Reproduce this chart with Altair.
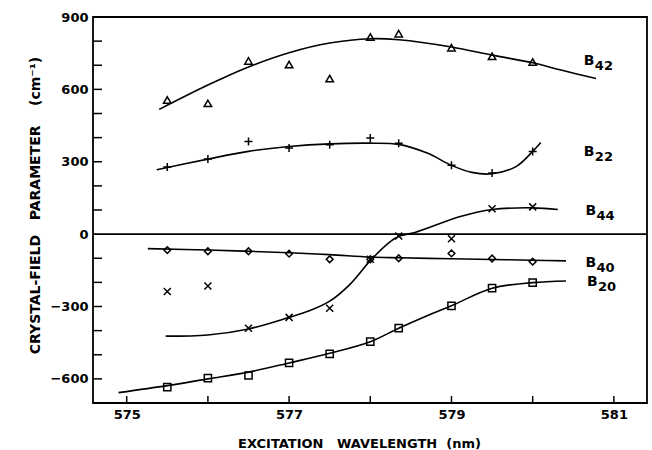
import altair as alt
import pandas as pd

# Excitation wavelengths of the measurements (nm)
wavelength = [575.5, 576.0, 576.5, 577.0, 577.5, 578.0, 578.35, 579.0, 579.5, 580.0]

# Fitted crystal-field parameters at each wavelength (cm^-1)
b42 = [556, 542, 718, 703, 645, 817, 831, 773, 737, 713]
b22 = [278, 311, 384, 357, 370, 398, 377, 285, 253, 343]
b44 = [-238, -215, -390, -345, -307, -104, -8, -19, 105, 113]
b40 = [-66, -71, -71, -81, -104, -104, -100, -80, -101, -114]
b20 = [-634, -597, -586, -534, -496, -446, -390, -297, -224, -201]

# Smooth guide curves drawn through each parameter set
b42_curve_x = [575.40, 576.0, 576.5, 577.0, 577.5, 578.0, 578.35, 579.0, 579.5, 580.0, 580.35, 580.78]
b42_curve_y = [517, 618, 693, 752, 792, 810, 806, 776, 742, 710, 680, 645]
b22_curve_x = [575.37, 576.0, 576.5, 577.0, 577.5, 578.0, 578.35, 578.7, 579.0, 579.25, 579.5, 579.8, 580.0, 580.1]
b22_curve_y = [267, 311, 343, 363, 374, 377, 372, 336, 285, 256, 250, 281, 343, 380]
b44_curve_x = [575.48, 576.0, 576.5, 577.0, 577.25, 577.5, 577.75, 578.0, 578.22, 578.36, 578.55, 579.12, 579.5, 580.0, 580.31]
b44_curve_y = [-423, -418, -393, -345, -318, -278, -208, -110, -38, -8, 7, 74, 102, 109, 102]
b40_curve_x = [575.26, 576.0, 577.0, 577.5, 578.0, 578.35, 579.0, 579.5, 580.0, 580.41]
b40_curve_y = [-60, -66, -77, -85, -95, -98, -102, -105, -108, -111]
b20_curve_x = [574.90, 575.5, 576.0, 576.5, 577.0, 577.5, 578.0, 578.35, 578.7, 579.0, 579.5, 580.0, 580.41]
b20_curve_y = [-657, -628, -600, -572, -534, -494, -446, -390, -338, -297, -224, -201, -194]

# Axis ticks and labels
x_labels = [575, 577, 579, 581]
x_ticks = [575, 576, 577, 578, 579, 580, 581]
y_labels = [-600, -300, 0, 300, 600, 900]
y_ticks = [-600, -500, -400, -300, -200, -100, 100, 200, 300, 400, 500, 600, 700, 800]

# Series labels at the right-hand side
label_names = ["42", "22", "44", "40", "20"]
label_x = [580.63, 580.63, 580.65, 580.65, 580.67]
label_y = [718, 340, 96, -120, -198]

W, H = 554, 386
FONT = "DejaVu Sans"
INK = "black"

x_scale = alt.Scale(domain=[574.585, 581.408], nice=False, zero=False)
y_scale = alt.Scale(domain=[-700, 900], nice=False, zero=False)

x_axis = alt.Axis(
    values=x_labels, format="d", ticks=False, domain=False, grid=False,
    labelFont=FONT, labelFontWeight="bold", labelFontSize=13, labelColor=INK,
    labelPadding=5,
    title="EXCITATION\u00a0\u00a0\u00a0WAVELENGTH\u00a0\u00a0(nm)",
    titleFont=FONT, titleFontWeight="bold", titleFontSize=13, titleColor=INK,
    titleX=266, titleY=44, titleAlign="center", titleBaseline="alphabetic",
    titleAnchor="start",
)
y_axis = alt.Axis(
    values=y_labels, format="d", ticks=False, domain=False, grid=False,
    labelFont=FONT, labelFontWeight="bold", labelFontSize=13, labelColor=INK,
    labelPadding=5,
    title="CRYSTAL-FIELD\u00a0\u00a0\u00a0PARAMETER\u00a0\u00a0\u00a0\u00a0(cm\u207b\u00b9)",
    titleFont=FONT, titleFontWeight="bold", titleFontSize=14, titleColor=INK,
    titleAngle=270, titleX=-58, titleY=188, titleAlign="center",
    titleBaseline="middle", titleAnchor="start",
)

X = alt.X("x:Q", scale=x_scale, axis=x_axis)
Y = alt.Y("y:Q", scale=y_scale, axis=y_axis)


def curve(xs, ys):
    return alt.Chart(pd.DataFrame({"x": xs, "y": ys})).mark_line(
        interpolate="catmull-rom", color=INK, strokeWidth=1.6
    ).encode(x=X, y=Y)


def points(ys, shape, size):
    return alt.Chart(pd.DataFrame({"x": wavelength, "y": ys})).mark_point(
        shape=shape, size=size, filled=False, color=INK, strokeWidth=1.5, opacity=1
    ).encode(x=X, y=Y)


plus = "M-1,0L1,0M0,-1L0,1"
cross = "M-1,-1L1,1M-1,1L1,-1"

layers = [
    # zero line
    alt.Chart(pd.DataFrame({"y": [0]})).mark_rule(color=INK, strokeWidth=1.8).encode(y=Y),
    # inward tick marks
    alt.Chart(pd.DataFrame({"x": x_ticks})).mark_rule(color=INK, strokeWidth=1.5).encode(
        x=X, y=alt.value(H), y2=alt.value(H - 7)
    ),
    alt.Chart(pd.DataFrame({"y": y_ticks})).mark_rule(color=INK, strokeWidth=1.5).encode(
        y=Y, x=alt.value(0), x2=alt.value(9)
    ),
    curve(b42_curve_x, b42_curve_y),
    curve(b22_curve_x, b22_curve_y),
    curve(b44_curve_x, b44_curve_y),
    curve(b40_curve_x, b40_curve_y),
    curve(b20_curve_x, b20_curve_y),
    points(b42, "triangle-up", 56),
    points(b22, plus, 64),
    points(b44, cross, 49),
    points(b40, "diamond", 45),
    points(b20, "square", 52),
]

labels = pd.DataFrame({"x": label_x, "y": label_y, "sub": label_names})
layers.append(
    alt.Chart(labels).mark_text(
        text="B", align="left", baseline="middle", font=FONT, fontWeight="bold",
        fontSize=14, color=INK
    ).encode(x=X, y=Y)
)
layers.append(
    alt.Chart(labels).mark_text(
        align="left", baseline="middle", font=FONT, fontWeight="bold",
        fontSize=13, color=INK, dx=11, dy=5
    ).encode(x=X, y=Y, text="sub:N")
)

chart = alt.layer(*layers).properties(
    width=W, height=H,
    autosize=alt.AutoSizeParams(type="none"),
    padding={"left": 93, "top": 17, "right": 5, "bottom": 47},
    background="white",
).configure_view(stroke=INK, strokeWidth=1.8)

chart.save("out.html", embed_options={"renderer": "svg", "actions": False})
